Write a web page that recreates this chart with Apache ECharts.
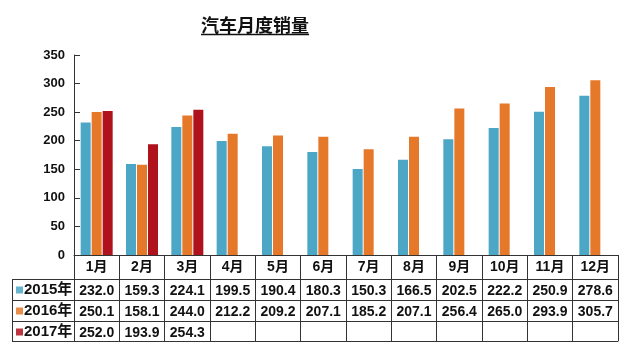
<!DOCTYPE html>
<html><head><meta charset="utf-8">
<script src="https://cdn.jsdelivr.net/npm/echarts@6/dist/echarts.min.js"></script>
<style>html,body{margin:0;padding:0;background:#fff}#c{width:640px;height:349px}</style>
</head><body><div id="c"></div>
<script>
const title = '汽车月度销量';
const months = ['1月','2月','3月','4月','5月','6月','7月','8月','9月','10月','11月','12月'];
const seriesNames = ['2015年','2016年','2017年'];
const s2015 = [232.0,159.3,224.1,199.5,190.4,180.3,150.3,166.5,202.5,222.2,250.9,278.6];
const s2016 = [250.1,158.1,244.0,212.2,209.2,207.1,185.2,207.1,256.4,265.0,293.9,305.7];
const s2017 = [252.0,193.9,254.3];
const yTicks = [0,50,100,150,200,250,300,350];

const colors = ['#4BA7C5','#E6782A','#B0121D'];
const FONT = '"Liberation Sans", Arial, "Noto Sans CJK SC", sans-serif';
const rows = [s2015, s2016, s2017];

const G = {left:74, right:22, top:55, bottom:94};
const lineColor = '#333';
const rowOffsets = [24, 45, 66];

function mkRowAxis(arr, off){
  return {
    type:'category', data: months, position:'bottom', gridIndex:0, offset: off,
    axisLine:{show:true, lineStyle:{color:lineColor, width:1}},
    axisTick:{show:false},
    axisLabel:{interval:0, margin:5, fontFamily:FONT, fontSize:14, fontWeight:'bold', color:'#111',
      formatter:(v,i)=> (arr[i]===undefined ? '' : arr[i].toFixed(1))}
  };
}

const chart = echarts.init(document.getElementById('c'), null, {renderer:'canvas'});
const xAxes = [{
  type:'category', data: months, position:'bottom',
  axisLine:{show:true, lineStyle:{color:lineColor, width:1}},
  axisTick:{show:true, interval:0, length:86, inside:false, lineStyle:{color:lineColor, width:1}},
  axisLabel:{interval:0, margin:5, fontFamily:FONT, fontSize:14, fontWeight:'bold', color:'#111'}
}];
rows.forEach((r,k)=> xAxes.push(mkRowAxis(r, rowOffsets[k])));
xAxes.push({type:'category', data:months, position:'bottom', offset:86,
  axisLine:{show:true, lineStyle:{color:lineColor}}, axisTick:{show:false}, axisLabel:{show:false}});

const TITLE_FONT = 'bold 18px "Noto Sans CJK SC", sans-serif';
const titleCx = 255;
const ctx = document.createElement('canvas').getContext('2d');
ctx.font = TITLE_FONT;
const tw = ctx.measureText(title).width;

const graphic = [
  {type:'text', style:{text:title, x:titleCx, y:25, textAlign:'center', textVerticalAlign:'middle', verticalAlign:'middle', font:TITLE_FONT, fill:'#111'}},
  {type:'line', shape:{x1:titleCx-tw/2, y1:34.5, x2:titleCx+tw/2, y2:34.5}, style:{stroke:'#111', lineWidth:1.5}}
];
const tl = 12, tr = 74;
[279, 300, 321, 341].forEach(y => graphic.push({type:'line', shape:{x1:tl, y1:y+0.5, x2:tr, y2:y+0.5}, style:{stroke:lineColor, lineWidth:1}}));
graphic.push({type:'line', shape:{x1:tl+0.5, y1:279, x2:tl+0.5, y2:341}, style:{stroke:lineColor, lineWidth:1}});
seriesNames.forEach((n,k)=>{
  const cy = 290 + k*21;
  graphic.push({type:'rect', shape:{x:16, y:cy-3.5, width:7, height:7}, style:{fill:colors[k], opacity:0.85}});
  graphic.push({type:'text', style:{text:n, x:24, y:cy, textVerticalAlign:'middle', verticalAlign:'middle', font:'bold 15px "Liberation Sans", Arial, "Noto Sans CJK SC", sans-serif', fill:'#111'}});
});

chart.setOption({
  animation:false,
  backgroundColor:'#fff',
  grid:{left:G.left, right:G.right, top:G.top, bottom:G.bottom, containLabel:false},
  xAxis: xAxes,
  yAxis:{type:'value', min:yTicks[0], max:yTicks[yTicks.length-1], interval:50,
    axisLine:{show:true, lineStyle:{color:lineColor}},
    axisTick:{show:true, inside:true, length:6, lineStyle:{color:lineColor}},
    splitLine:{show:false},
    axisLabel:{margin:9, fontFamily:FONT, fontSize:13, fontWeight:'bold', color:'#111'}},
  series: rows.map((r,k)=>({
    type:'bar', name:seriesNames[k], data:r, xAxisIndex:0, barWidth:10, barGap:'10%',
    itemStyle:{color:colors[k]}
  })),
  graphic: graphic
});
</script></body></html>
